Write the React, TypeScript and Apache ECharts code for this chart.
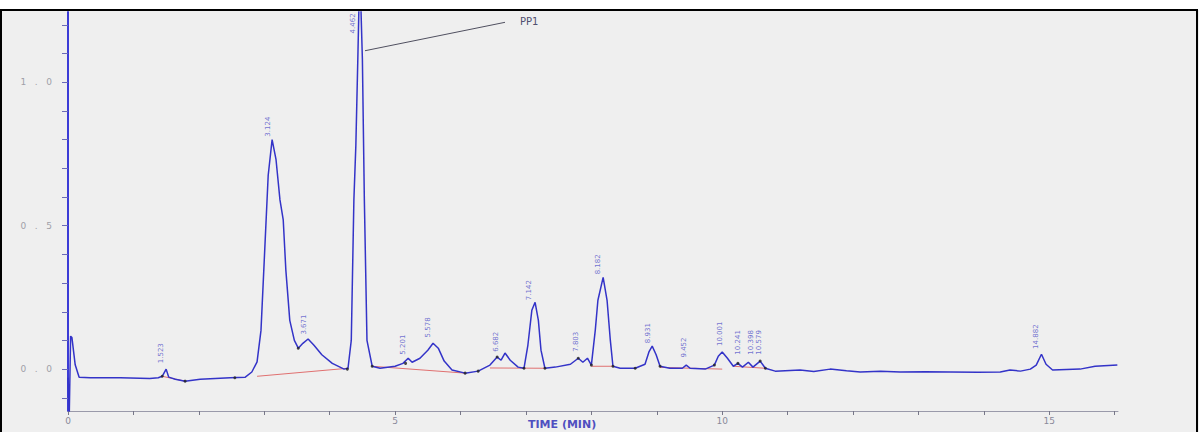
import React, { useEffect, useRef } from "react";
import * as echarts from "echarts";

// Chromatogram trace: retention time (min) and detector response
const traceTime = [
  0.0, 0.01, 0.02, 0.04, 0.06, 0.11, 0.17, 0.34, 0.8, 1.25, 1.38, 1.44, 1.5, 1.54, 1.64, 1.79, 2.02, 2.48, 2.71,
  2.81, 2.89, 2.95, 3.0, 3.06, 3.12, 3.18, 3.24, 3.29, 3.33, 3.39, 3.46, 3.52, 3.59, 3.67, 3.76, 3.88, 4.04,
  4.22, 4.28, 4.33, 4.37, 4.4, 4.43, 4.46, 4.5, 4.53, 4.57, 4.65, 4.77, 5.0, 5.12, 5.2, 5.26, 5.38, 5.5, 5.58,
  5.66, 5.75, 5.87, 6.07, 6.27, 6.45, 6.56, 6.62, 6.68, 6.76, 6.88, 6.97, 7.03, 7.09, 7.14, 7.19, 7.23, 7.29,
  7.45, 7.68, 7.8, 7.87, 7.94, 8.0, 8.06, 8.1, 8.18, 8.24, 8.29, 8.33, 8.44, 8.67, 8.82, 8.88, 8.93, 8.99,
  9.05, 9.2, 9.39, 9.45, 9.51, 9.74, 9.88, 9.94, 10.0, 10.08, 10.17, 10.24, 10.31, 10.4, 10.47, 10.58, 10.66,
  10.81, 11.19, 11.4, 11.65, 11.9, 12.11, 12.42, 12.72, 13.1, 13.49, 13.9, 14.25, 14.4, 14.56, 14.71, 14.8,
  14.88, 14.95, 15.05, 15.47, 15.7, 16.04,
];
const traceValue = [
  -0.03, -0.03, -0.15, 0.115, 0.11, 0.015, -0.028, -0.03, -0.03, -0.033, -0.03, -0.025, 0.0, -0.028, -0.035,
  -0.042, -0.035, -0.03, -0.028, -0.01, 0.025, 0.135, 0.38, 0.675, 0.8, 0.73, 0.59, 0.52, 0.345, 0.17, 0.1,
  0.073, 0.09, 0.105, 0.083, 0.05, 0.02, 0.0, 0.003, 0.1, 0.59, 0.78, 1.08, 1.4, 1.08, 0.59, 0.1, 0.01, 0.003,
  0.01, 0.02, 0.038, 0.024, 0.038, 0.066, 0.09, 0.073, 0.028, -0.003, -0.014, -0.007, 0.014, 0.042, 0.031,
  0.056, 0.031, 0.007, 0.003, 0.084, 0.205, 0.233, 0.17, 0.066, 0.003, 0.007, 0.017, 0.038, 0.024, 0.038,
  0.014, 0.136, 0.24, 0.32, 0.24, 0.1, 0.01, 0.003, 0.003, 0.017, 0.06, 0.08, 0.05, 0.01, 0.003, 0.003, 0.014,
  0.003, 0.0, 0.014, 0.045, 0.06, 0.038, 0.01, 0.02, 0.007, 0.024, 0.007, 0.028, 0.003, -0.007, -0.003,
  -0.008, 0.0, -0.006, -0.01, -0.007, -0.01, -0.009, -0.01, -0.011, -0.01, -0.003, -0.007, 0.0, 0.014, 0.052,
  0.017, -0.003, 0.0, 0.01, 0.014,
];

// Integration baselines (red), null breaks segments
const baseTime = [1.44, 1.79, null, 2.89, 4.28, null, 4.65, 6.07, null, 6.45, 7.29, null, 8.0, 8.33, null, 9.05, 10.0, null, 10.17, 10.66];
const baseValue = [-0.025, -0.042, null, -0.025, 0.003, null, 0.01, -0.014, null, 0.004, 0.003, null, 0.01, 0.01, null, 0.006, 0.0, null, 0.01, 0.003];

// Integration markers (black dots)
const markTime = [1.44, 1.79, 2.55, 3.52, 4.27, 4.65, 5.16, 6.07, 6.27, 6.56, 6.97, 7.29, 7.8, 8.0, 8.33, 8.67, 9.05, 9.88, 10.24, 10.58, 10.66];
const markValue = [-0.025, -0.042, -0.03, 0.073, 0.0, 0.01, 0.02, -0.014, -0.007, 0.042, 0.003, 0.003, 0.038, 0.014, 0.01, 0.003, 0.01, 0.014, 0.02, 0.028, 0.003];

// Peak retention-time labels
const peakTime = [1.42, 3.06, 3.6, 4.36, 5.12, 5.5, 6.54, 7.04, 7.76, 8.1, 8.87, 9.42, 9.96, 10.24, 10.44, 10.56, 14.8];
const peakValue = [0.01, 0.8, 0.11, 1.16, 0.04, 0.1, 0.05, 0.23, 0.05, 0.32, 0.08, 0.03, 0.07, 0.04, 0.04, 0.04, 0.06];
const peakText = ["1.523", "3.124", "3.671", "4.462", "5.201", "5.578", "6.682", "7.142", "7.803", "8.182", "8.931", "9.452", "10.001", "10.241", "10.398", "10.579", "14.882"];

// Axis ticks and labels
const xLabelValues = [0, 5, 10, 15];
const xTickValues = [0, 1, 2, 3, 4, 5, 6, 7, 8, 9, 10, 11, 12, 13, 14, 15, 16];
const yLabelValues = [0, 0.5, 1.0];
const yTickValues = [-0.1, 0, 0.1, 0.2, 0.3, 0.4, 0.5, 0.6, 0.7, 0.8, 0.9, 1.0, 1.1, 1.2];

const annotation = { text: "PP1", from: [6.68, 1.209], to: [4.54, 1.11] };
const axisTitle = "TIME (MIN)";

export default function App() {
  const ref = useRef<HTMLDivElement>(null);
  useEffect(() => {
    document.body.style.margin = "0";
    if (!ref.current) return;
    const chart = echarts.init(ref.current, null, { renderer: "svg" });
    const trace = traceTime.map((t, i) => [t, traceValue[i]]);
    const base = baseTime.map((t, i) => (t === null ? [null, null] : [t, baseValue[i]]));
    const marks = markTime.map((t, i) => [t, markValue[i]]);
    const peaks = peakTime.map((t, i) => ({ value: [t, peakValue[i]], name: peakText[i] }));
    chart.setOption({
      animation: false,
      backgroundColor: "#efefef",
      grid: { left: 68, right: 81, top: 12, bottom: 21 },
      xAxis: {
        type: "value",
        min: 0,
        max: 16.05,
        axisLine: { onZero: false, lineStyle: { color: "#9a9aaa", width: 1 } },
        axisTick: { customValues: xTickValues, inside: false, length: 4, lineStyle: { color: "#777788" } },
        axisLabel: { customValues: xLabelValues, color: "#8a8a9a", fontSize: 9, margin: 5, fontFamily: "DejaVu Sans" },
        splitLine: { show: false },
      },
      yAxis: {
        type: "value",
        min: -0.146,
        max: 1.245,
        axisLine: { show: true, lineStyle: { color: "#3b3bd6", width: 2 } },
        axisTick: { show: true, customValues: yTickValues, length: 6, lineStyle: { color: "#6a6ab8" } },
        axisLabel: {
          customValues: yLabelValues,
          color: "#a0a0a8",
          fontSize: 9,
          margin: 16,
          fontFamily: "DejaVu Sans",
          formatter: (v: number) => v.toFixed(1).split("").join("   "),
        },
        splitLine: { show: false },
      },
      series: [
        {
          type: "line",
          data: base,
          symbol: "none",
          connectNulls: false,
          lineStyle: { color: "#e07070", width: 1 },
          z: 2,
        },
        {
          type: "line",
          data: trace,
          symbol: "none",
          lineStyle: { color: "#3333c8", width: 1.5 },
          z: 3,
          markLine: {
            silent: true,
            symbol: ["none", "arrow"],
            symbolSize: [0, 8],
            lineStyle: { color: "#505060", width: 1, type: "solid" },
            label: { show: false },
            data: [[{ coord: annotation.from }, { coord: annotation.to }]],
          },
        },
        {
          type: "scatter",
          data: marks,
          symbolSize: 3,
          itemStyle: { color: "#222222" },
          z: 4,
        },
        {
          type: "scatter",
          data: peaks,
          symbolSize: 0,
          z: 5,
          label: {
            show: true,
            formatter: (p: any) => p.name,
            position: "top",
            rotate: 90,
            align: "left",
            verticalAlign: "middle",
            distance: 3,
            fontSize: 7,
            color: "#5050c8",
            fontFamily: "DejaVu Sans",
          },
        },
      ],
      graphic: [
        { type: "rect", shape: { x: 0, y: 0, width: 1199, height: 10 }, style: { fill: "#ffffff" }, z: 10 },
        { type: "line", shape: { x1: 0, y1: 10, x2: 1198, y2: 10 }, style: { stroke: "#000", lineWidth: 2 }, z: 11 },
        { type: "line", shape: { x1: 1, y1: 10, x2: 1, y2: 432 }, style: { stroke: "#000", lineWidth: 2 }, z: 11 },
        { type: "line", shape: { x1: 1197, y1: 10, x2: 1197, y2: 432 }, style: { stroke: "#000", lineWidth: 2 }, z: 11 },
        {
          type: "text",
          x: 520,
          y: 16,
          style: { text: annotation.text, fill: "#505070", fontSize: 10, fontFamily: "DejaVu Sans" },
          z: 11,
        },
        {
          type: "text",
          x: 528,
          y: 419,
          style: { text: axisTitle, fill: "#5050c0", fontSize: 11, fontFamily: "DejaVu Sans", fontWeight: "bold" },
          z: 11,
        },
      ],
    });
    return () => chart.dispose();
  }, []);
  return <div ref={ref} style={{ width: 1199, height: 432 }} />;
}
